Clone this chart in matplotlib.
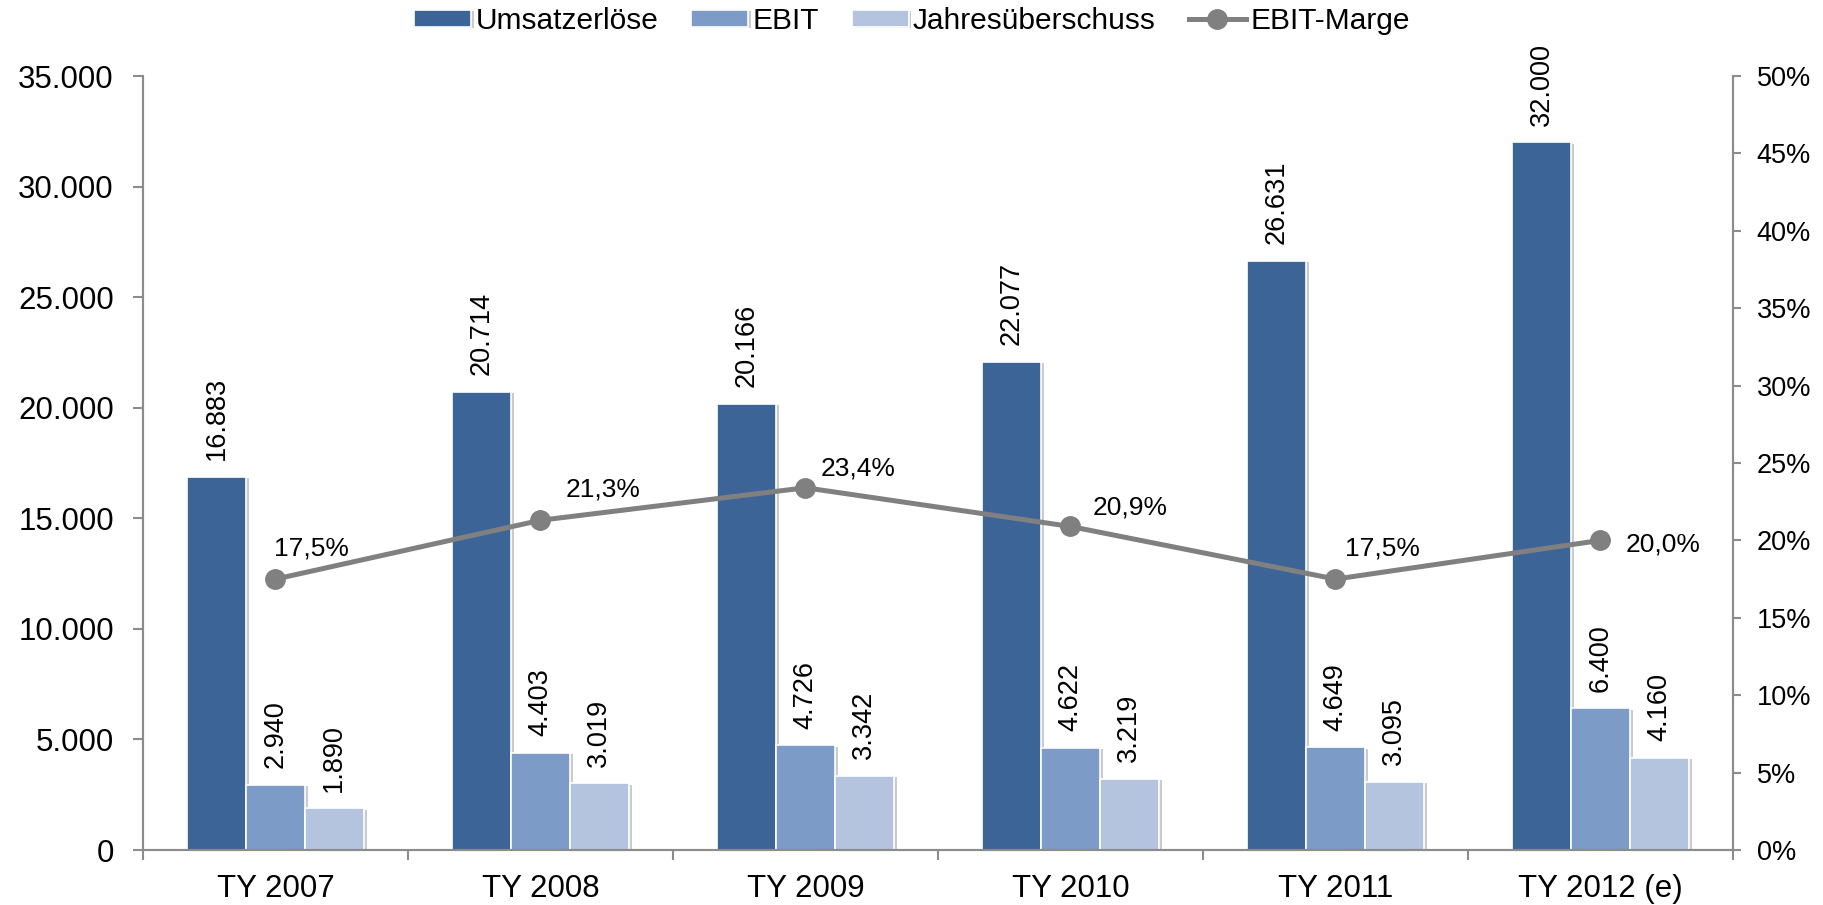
import numpy as np
import matplotlib
matplotlib.use("Agg")
import matplotlib.pyplot as plt
import matplotlib.patheffects as pe
from matplotlib.ticker import FuncFormatter, MultipleLocator

plt.rcParams["font.family"] = ["Liberation Sans", "DejaVu Sans"]

# Data
categories = ["TY 2007", "TY 2008", "TY 2009", "TY 2010", "TY 2011", "TY 2012 (e)"]
umsatz = [16883, 20714, 20166, 22077, 26631, 32000]
ebit = [2940, 4403, 4726, 4622, 4649, 6400]
jahresueberschuss = [1890, 3019, 3342, 3219, 3095, 4160]
ebit_marge = [17.5, 21.3, 23.4, 20.9, 17.5, 20.0]

# label offsets for the margin labels (points), as placed in the original
marge_offsets = [(26, 22), (45, 22), (38, 14), (43, 14), (34, 22), (45, -3)]

c_ums = "#3d6496"
c_ebit = "#7c9bc7"
c_jue = "#b4c4df"
c_line = "#808080"
c_axis = "#8c8c8c"

fig = plt.figure(figsize=(18.24, 9.05), dpi=100)
ax = fig.add_axes([143 / 1824, 1 - 850 / 905, (1733 - 143) / 1824, (850 - 76) / 905])
ax2 = ax.twinx()

x = np.arange(len(categories))
w = 0.222
shadow = [pe.SimplePatchShadow(offset=(2, -1), shadow_rgbFace="#999999", alpha=0.5), pe.Normal()]

for vals, col, off, name in [(umsatz, c_ums, -w, "Umsatzerlöse"),
                             (ebit, c_ebit, 0, "EBIT"),
                             (jahresueberschuss, c_jue, w, "Jahresüberschuss")]:
    bars = ax.bar(x + off, vals, w, color=col, edgecolor="white", linewidth=1.2,
                  label=name, zorder=2)
    for b in bars:
        b.set_path_effects(shadow)
    for xi, v in zip(x + off, vals):
        ax.annotate(f"{v:,}".replace(",", "."), xy=(xi, v), xytext=(0, 12),
                    textcoords="offset points", rotation=90, ha="center", va="bottom",
                    fontsize=19.5)

ax2.plot(x, np.array(ebit_marge) / 100, color=c_line, lw=3.6, marker="o",
         markersize=14, label="EBIT-Marge", zorder=3)
for xi, m, (dx, dy) in zip(x, ebit_marge, marge_offsets):
    ax2.annotate(f"{m:.1f}%".replace(".", ","), xy=(xi, m / 100), xytext=(dx, dy),
                 textcoords="offset points", ha="center", va="center", fontsize=19)

# axes
ax.set_xlim(-0.5, len(categories) - 0.5)
ax.set_ylim(0, 35000)
ax2.set_ylim(0, 0.5)
ax.yaxis.set_major_locator(MultipleLocator(5000))
ax2.yaxis.set_major_locator(MultipleLocator(0.05))
ax.yaxis.set_major_formatter(FuncFormatter(lambda v, p: f"{int(v):,}".replace(",", ".")))
ax2.yaxis.set_major_formatter(FuncFormatter(lambda v, p: f"{int(round(v * 100))}%"))

ax.set_xticks(x)
ax.set_xticklabels(categories)
ax.set_xticks(np.arange(-0.5, len(categories)), minor=True)
ax.tick_params(axis="x", which="major", length=0, pad=17, labelsize=22.5)
ax.tick_params(axis="x", which="minor", length=7, width=1.5, color=c_axis, direction="out")
ax.tick_params(axis="y", length=7, width=1.5, color=c_axis, pad=14, labelsize=22.5)
ax2.tick_params(axis="y", length=6, width=1.5, color=c_axis, pad=11, labelsize=19.5)

for a in (ax, ax2):
    a.spines["top"].set_visible(False)
    for s in ("left", "right", "bottom"):
        a.spines[s].set_color(c_axis)
        a.spines[s].set_linewidth(1.5)

h1, l1 = ax.get_legend_handles_labels()
h2, l2 = ax2.get_legend_handles_labels()
fig.legend(h1 + h2, l1 + l2, loc="center", bbox_to_anchor=(0.5, 1 - 21 / 905), ncol=4,
           frameon=False, fontsize=21.5, handlelength=1.9, handleheight=0.5,
           handletextpad=0.15, columnspacing=1.1)

fig.savefig("out.png", dpi=100)
